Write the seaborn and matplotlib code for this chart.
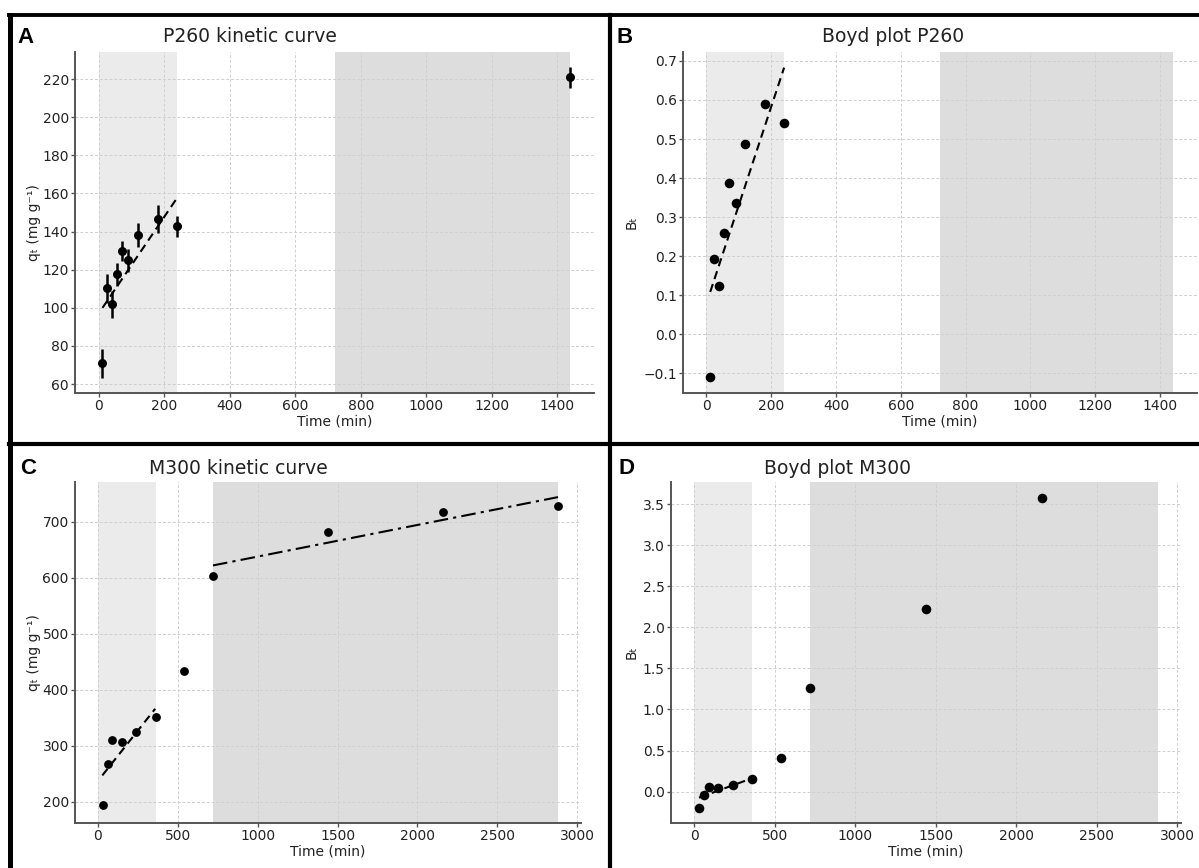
import numpy as np
import pandas as pd
import matplotlib
matplotlib.use("Agg")
import matplotlib.pyplot as plt
from matplotlib.lines import Line2D
import seaborn as sns

# ---------------- data ----------------
# Panel A: P260 kinetic curve
A_time = [10, 25, 40, 55, 70, 90, 120, 180, 240, 1440]
A_qt = [70.8, 110.2, 101.8, 117.5, 129.8, 125.0, 138.3, 146.5, 142.7, 221.0]
A_err = [7.4, 7.5, 7.2, 6.2, 5.2, 6.0, 6.3, 7.5, 5.3, 5.5]
A_fit_x = [12, 241]
A_fit_y = [100.0, 158.0]

# Panel B: Boyd plot P260
B_time = [10, 25, 40, 55, 70, 90, 120, 180, 240]
B_bt = [-0.110, 0.193, 0.123, 0.260, 0.388, 0.336, 0.488, 0.591, 0.541]
B_fit_x = [12, 240]
B_fit_y = [0.108, 0.683]

# Panel C: M300 kinetic curve
C_time = [30, 60, 90, 150, 240, 360, 540, 720, 1440, 2160, 2880]
C_qt = [195, 267, 310, 307, 324, 351, 434, 604, 681, 717, 729]
C_fit1_x = [27, 358]
C_fit1_y = [247, 366]
C_fit2_x = [720, 2880]
C_fit2_y = [622, 744]

# Panel D: Boyd plot M300
D_time = [30, 60, 90, 150, 240, 360, 540, 720, 1440, 2160]
D_bt = [-0.195, -0.045, 0.053, 0.040, 0.085, 0.154, 0.407, 1.268, 2.228, 3.585]
D_fit_x = [30, 360]
D_fit_y = [-0.075, 0.162]

# shaded time regions
AB_light = (0, 240)
AB_dark = (720, 1440)
CD_light = (0, 360)
CD_dark = (720, 2880)

panel_letters = ["A", "B", "C", "D"]
panel_titles = ["P260 kinetic curve", "Boyd plot P260", "M300 kinetic curve", "Boyd plot M300"]
x_label = "Time (min)"
qt_label = "q\u209c (mg g\u207b\u00b9)"
bt_label = "B\u209c"

# ---------------- style ----------------
sns.set_style("whitegrid")
plt.rcParams["font.family"] = ["DejaVu Sans"]

W, H = 1199, 868
fig = plt.figure(figsize=(W / 100, H / 100), dpi=100)
fig.patch.set_facecolor("white")


def rect(l, r, t, b):
    return [l / W, 1 - b / H, (r - l) / W, (b - t) / H]


LIGHT = "#ebebeb"
DARK = "#dddddd"
SPINE = "#555555"


def style_ax(ax, xlim, ylim, xticks, yticks):
    ax.set_xlim(*xlim)
    ax.set_ylim(*ylim)
    ax.set_xticks(xticks)
    ax.set_yticks(yticks)
    ax.grid(True, linestyle=(0, (3, 2)), color="#cfcfcf", linewidth=0.7)
    for s in ["top", "right"]:
        ax.spines[s].set_visible(False)
    for s in ["left", "bottom"]:
        ax.spines[s].set_visible(True)
        ax.spines[s].set_color(SPINE)
        ax.spines[s].set_linewidth(1.4)
    ax.tick_params(axis="both", which="major", bottom=True, left=True,
                   direction="out", length=3, width=1, color=SPINE,
                   labelsize=10, labelcolor="#222222", pad=1.5)
    ax.set_facecolor("white")
    ax.set_xlabel(x_label, fontsize=10, color="#222222", labelpad=1)


def shade(ax, light, dark):
    ax.axvspan(*light, color=LIGHT, zorder=0, lw=0)
    ax.axvspan(*dark, color=DARK, zorder=0, lw=0)


# ---- Panel A ----
axA = fig.add_axes(rect(75, 594, 52, 393))
shade(axA, AB_light, AB_dark)
axA.errorbar(A_time, A_qt, yerr=A_err, fmt="none", ecolor="black",
             elinewidth=1.8, capsize=0, zorder=3)
sns.scatterplot(x=A_time, y=A_qt, ax=axA, color="black", s=42,
                linewidth=0, zorder=4)
sns.lineplot(x=A_fit_x, y=A_fit_y, ax=axA, color="black",
             linestyle=(0, (4, 2.5)), lw=1.5, zorder=3)
style_ax(axA, (-72, 1512), (55.3, 234.2), range(0, 1401, 200), range(60, 221, 20))
axA.set_ylabel(qt_label, fontsize=10, color="#222222", labelpad=1)

# ---- Panel B ----
axB = fig.add_axes(rect(683, 1197, 52, 393))
shade(axB, AB_light, AB_dark)
sns.scatterplot(x=B_time, y=B_bt, ax=axB, color="black", s=48,
                linewidth=0, zorder=4)
sns.lineplot(x=B_fit_x, y=B_fit_y, ax=axB, color="black",
             linestyle=(0, (4, 2.5)), lw=1.5, zorder=3)
style_ax(axB, (-72, 1514), (-0.151, 0.723), range(0, 1401, 200),
         np.round(np.arange(-0.1, 0.71, 0.1), 1))
axB.set_ylabel(bt_label, fontsize=10, color="#222222", labelpad=3)

# ---- Panel C ----
axC = fig.add_axes(rect(75, 581, 482, 823))
shade(axC, CD_light, CD_dark)
sns.scatterplot(x=C_time, y=C_qt, ax=axC, color="black", s=40,
                linewidth=0, zorder=4)
sns.lineplot(x=C_fit1_x, y=C_fit1_y, ax=axC, color="black",
             linestyle=(0, (4, 2.5)), lw=1.5, zorder=3)
sns.lineplot(x=C_fit2_x, y=C_fit2_y, ax=axC, color="black",
             linestyle=(0, (7, 2.5, 1.5, 2.5)), lw=1.5, zorder=3)
style_ax(axC, (-144, 3024), (162, 771), range(0, 3001, 500), range(200, 701, 100))
axC.set_ylabel(qt_label, fontsize=10, color="#222222", labelpad=1)

# ---- Panel D ----
axD = fig.add_axes(rect(671, 1181, 482, 823))
shade(axD, CD_light, CD_dark)
sns.scatterplot(x=D_time, y=D_bt, ax=axD, color="black", s=48,
                linewidth=0, zorder=4)
sns.lineplot(x=D_fit_x, y=D_fit_y, ax=axD, color="black",
             linestyle=(0, (4, 2.5)), lw=1.5, zorder=3)
style_ax(axD, (-144, 3024), (-0.384, 3.774), range(0, 3001, 500),
         np.round(np.arange(0, 3.51, 0.5), 1))
axD.set_ylabel(bt_label, fontsize=10, color="#222222", labelpad=3)

# ---- titles and panel letters ----
title_pos = [(250, 37), (893, 37), (238, 468), (837, 468)]
letter_pos = [(17, 43), (617, 43), (20, 474), (619, 474)]
for t, (x, y) in zip(panel_titles, title_pos):
    fig.text(x / W, 1 - y / H, t, ha="center", va="center", fontsize=13.5,
             color="#222222")
for l, (x, y) in zip(panel_letters, letter_pos):
    fig.text(x / W, 1 - y / H, l, ha="left", va="baseline", fontsize=16,
             fontweight="bold", family=["Liberation Sans", "DejaVu Sans"],
             color="black")

# ---- panel borders ----
def fline(x0, y0, x1, y1, lw):
    fig.add_artist(Line2D([x0 / W, x1 / W], [1 - y0 / H, 1 - y1 / H],
                          color="black", lw=lw, solid_capstyle="projecting",
                          transform=fig.transFigure))

fline(9, 15, W, 15, 2.8)
fline(10.5, 15, 10.5, H, 3.6)
fline(610.5, 15, 610.5, H, 3.0)
fline(9, 444, W, 444, 3.0)

fig.savefig("out.png", dpi=100, facecolor="white")
